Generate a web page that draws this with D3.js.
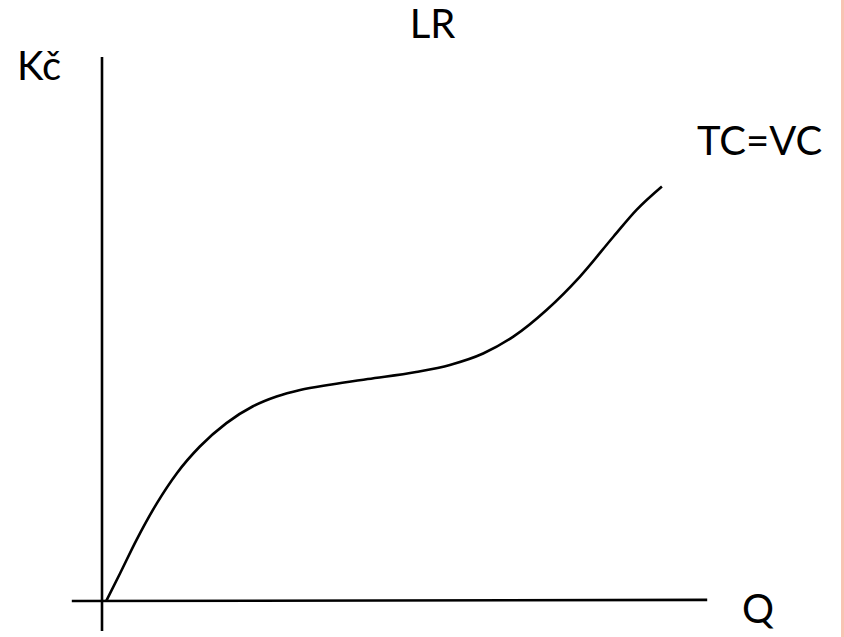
<!DOCTYPE html>
<html><head><meta charset="utf-8">
<script src="https://cdn.jsdelivr.net/npm/d3@7"></script>
<style>html,body{margin:0;padding:0;background:#fff;overflow:hidden}</style>
</head><body>
<script>
// Data (Q = quantity, C = cost, arbitrary units)
const qValues = [0.7, 3.0, 5.7, 9.1, 12.4, 16.2, 20.6, 25.0, 28.9, 32.8, 38.0, 44.0, 52.0, 57.6, 63.1, 68.1, 73.6, 79.1, 84.7, 88.5, 92.7];
const cValues = [0, 5.1, 11.2, 18.0, 23.5, 28.4, 32.7, 35.8, 37.6, 38.8, 39.8, 40.8, 42.1, 43.4, 45.5, 48.6, 53.5, 59.6, 67.0, 71.9, 76.2];
const titleText = "LR";
const yLabel = "Kč";
const xLabel = "Q";
const curveLabel = "TC=VC";

const W = 844, H = 637;
const svg = d3.select("body").append("svg").attr("width", W).attr("height", H);

const x = d3.scaleLinear().domain([0, 100]).range([102, 706]);
const y = d3.scaleLinear().domain([0, 100]).range([601, 57]);

// right pink border
svg.append("rect").attr("x", 841).attr("y", 0).attr("width", 3).attr("height", H).attr("fill", "#f8c3b3");

// axes
svg.append("line").attr("x1", x(-5)).attr("x2", x(100.2)).attr("y1", y(0)).attr("y2", y(0.2))
  .attr("stroke", "#000").attr("stroke-width", 2.6);
svg.append("line").attr("x1", x(0)).attr("x2", x(0)).attr("y1", y(100)).attr("y2", y(-5.5))
  .attr("stroke", "#000").attr("stroke-width", 2.6);

// curve
const pts = qValues.map((q, i) => [q, cValues[i]]);
svg.append("path").datum(pts)
  .attr("d", d3.line().x(d => x(d[0])).y(d => y(d[1])).curve(d3.curveMonotoneX))
  .attr("fill", "none").attr("stroke", "#000").attr("stroke-width", 2.6);

const font = "Lato, 'Open Sans', sans-serif";
function label(t, cx, by, anchor) {
  svg.append("text").attr("x", cx).attr("y", by).attr("text-anchor", anchor || "start")
    .attr("font-family", font).attr("font-size", 40).attr("fill", "#000").text(t);
}
label(titleText, 432.5, 38, "middle");
label(yLabel, 17, 80);
label(curveLabel, 697, 155);
label(xLabel, 742, 623);
</script>
</body></html>
